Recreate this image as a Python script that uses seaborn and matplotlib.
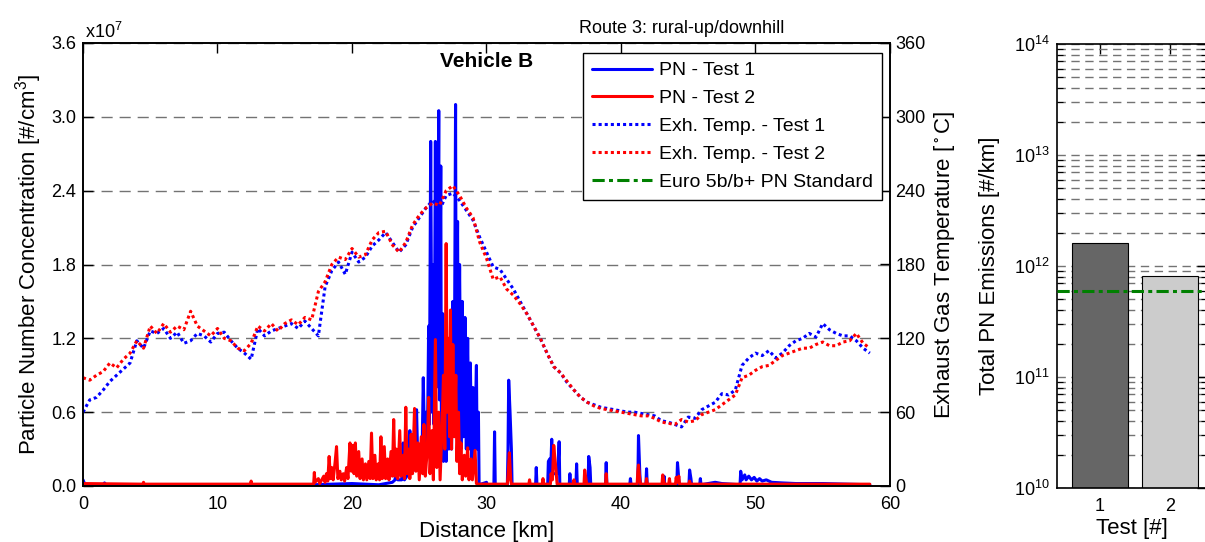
import numpy as np
import pandas as pd
import matplotlib
matplotlib.use("Agg")
import matplotlib.pyplot as plt
import seaborn as sns
from matplotlib.ticker import LogLocator, NullFormatter, FormatStrFormatter

# ---------------- data ----------------
temp_km = [0.0, 0.5, 1.0, 1.5, 2.0, 2.5, 3.0, 3.5, 4.0, 4.5, 5.0, 5.5, 6.0, 6.5, 7.0, 7.5, 8.0, 8.5, 9.0, 9.5,
           10.0, 10.5, 11.0, 11.5, 12.0, 12.5, 13.0, 13.5, 14.0, 14.5, 15.0, 15.5, 16.0, 16.5, 17.0, 17.5, 18.0, 18.5, 19.0, 19.5,
           20.0, 20.5, 21.0, 21.5, 22.0, 22.5, 23.0, 23.5, 24.0, 24.5, 25.0, 25.5, 26.0, 26.5, 27.0, 27.5, 28.0, 28.5, 29.0, 29.5,
           30.0, 30.5, 31.0, 31.5, 32.0, 32.5, 33.0, 33.5, 34.0, 34.5, 35.0, 35.5, 36.0, 36.5, 37.0, 37.5, 38.0, 38.5, 39.0, 39.5,
           40.0, 40.5, 41.0, 41.5, 42.0, 42.5, 43.0, 43.5, 44.0, 44.5, 45.0, 45.5, 46.0, 46.5, 47.0, 47.5, 48.0, 48.5, 49.0, 49.5,
           50.0, 50.5, 51.0, 51.5, 52.0, 52.5, 53.0, 53.5, 54.0, 54.5, 55.0, 55.5, 56.0, 56.5, 57.0, 57.5, 58.0, 58.5]

temp_test1 = [60, 70, 72, 78, 85, 90, 95, 100, 118, 112, 126, 124, 128, 120, 125, 116, 118, 124, 122, 117,
              124, 125, 118, 112, 108, 103, 128, 122, 126, 128, 130, 132, 128, 134, 128, 122, 162, 175, 182, 172,
              190, 182, 186, 195, 200, 206, 198, 190, 196, 210, 218, 226, 232, 224, 236, 238, 232, 224, 216, 202,
              190, 178, 176, 168, 160, 150, 140, 130, 120, 108, 97, 92, 84, 78, 72, 68, 66, 64, 63, 62,
              61, 60, 60, 59, 58, 57, 53, 52, 50, 48, 56, 55, 62, 65, 68, 75, 74, 78, 98, 104,
              108, 106, 110, 104, 108, 114, 118, 120, 124, 121, 132, 127, 124, 122, 122, 118, 112, 108]

temp_test2 = [88, 86, 90, 93, 100, 96, 103, 108, 118, 112, 130, 124, 132, 125, 130, 127, 142, 130, 126, 122,
              128, 120, 118, 112, 110, 116, 130, 126, 132, 126, 132, 135, 131, 137, 135, 158, 166, 180, 186, 184,
              193, 186, 188, 200, 206, 207, 196, 190, 198, 212, 220, 226, 230, 228, 240, 244, 236, 226, 218, 198,
              185, 168, 170, 160, 155, 148, 140, 130, 120, 108, 97, 92, 85, 78, 72, 68, 65, 63, 62, 61,
              60, 59, 58, 57, 57, 55, 52, 51, 50, 54, 52, 53, 58, 60, 62, 66, 70, 74, 88, 90,
              94, 97, 98, 102, 106, 108, 110, 112, 112, 115, 117, 114, 114, 117, 118, 124, 116, 112]

# particle number concentration, in units of 1e7 #/cm3
pn1_km = [0.0, 0.15, 1.5, 1.6, 1.7, 17.0, 20.0, 22.0, 23.0,
          23.2, 23.3, 23.4, 23.7, 23.8, 23.9, 24.2, 24.3, 24.4, 24.7, 24.8, 24.9, 25.1, 25.2, 25.3, 25.4, 25.5, 25.6,
          25.7, 25.75, 25.85, 25.95, 26.05, 26.1, 26.2, 26.25, 26.3, 26.35, 26.45, 26.5, 26.6, 26.65, 26.75, 26.8,
          26.9, 27.0, 27.1, 27.2, 27.3, 27.4, 27.5, 27.6, 27.7, 27.75, 27.85, 27.9, 28.0, 28.1, 28.2, 28.3, 28.4,
          28.5, 28.6, 28.7, 28.8, 28.9, 29.0, 29.1, 29.25, 29.3, 29.4, 29.45,
          30.0, 30.05, 30.55, 30.6, 30.65, 31.55, 31.6, 31.65, 31.75, 31.85, 31.9, 33.65, 33.7, 33.75,
          34.55, 34.6, 34.7, 34.75, 34.85, 34.9, 35.3, 35.4, 35.45, 36.15, 36.2, 36.25, 36.65, 36.7, 36.75,
          37.55, 37.6, 37.7, 37.75, 38.85, 38.9, 38.95, 40.65, 40.7, 40.75, 41.25, 41.3, 41.4, 41.45,
          41.85, 41.9, 41.95, 43.15, 43.2, 43.25, 44.15, 44.2, 44.3, 44.35, 45.05, 45.1, 45.2, 45.25,
          45.85, 45.9, 45.95, 47.0, 47.5, 48.85, 48.9, 49.0, 49.2, 49.3, 49.5, 49.7, 49.9, 50.1, 50.3, 50.5,
          50.8, 51.2, 52.0, 53.0, 55.0, 58.5]
pn1_val = [0.05, 0.01, 0.01, 0.025, 0.01, 0.01, 0.02, 0.01, 0.03,
           0.05, 0.2, 0.05, 0.05, 0.35, 0.05, 0.1, 0.45, 0.1, 0.15, 0.62, 0.15, 0.3, 0.2, 0.88, 0.3, 0.6, 0.3,
           1.3, 0.5, 2.8, 0.6, 1.8, 0.5, 2.8, 0.8, 2.7, 1.0, 3.05, 0.7, 2.6, 0.3, 1.4, 0.2,
           0.9, 0.2, 0.8, 0.3, 1.1, 0.3, 1.5, 0.6, 3.1, 0.8, 2.15, 0.5, 1.8, 0.3, 1.5, 0.4, 1.37,
           0.3, 1.2, 0.3, 1.0, 0.2, 0.8, 0.2, 0.98, 0.3, 0.6, 0.01,
           0.03, 0.01, 0.01, 0.44, 0.01, 0.01, 0.3, 0.86, 0.6, 0.3, 0.01, 0.01, 0.15, 0.01,
           0.01, 0.2, 0.22, 0.05, 0.38, 0.1, 0.1, 0.36, 0.01, 0.01, 0.1, 0.01, 0.01, 0.18, 0.01,
           0.01, 0.24, 0.15, 0.01, 0.01, 0.19, 0.01, 0.01, 0.06, 0.01, 0.01, 0.41, 0.1, 0.01,
           0.01, 0.14, 0.01, 0.01, 0.08, 0.01, 0.01, 0.19, 0.05, 0.01, 0.01, 0.13, 0.06, 0.01,
           0.01, 0.06, 0.01, 0.03, 0.02, 0.01, 0.12, 0.05, 0.09, 0.05, 0.08, 0.05, 0.07, 0.04, 0.06, 0.04,
           0.05, 0.03, 0.025, 0.02, 0.02, 0.01]

pn2_km = [0.0, 4.45, 4.5, 4.55, 12.45, 12.5, 12.55, 17.15, 17.2, 17.25, 17.5, 17.6, 17.9, 18.0, 18.1, 18.2,
          18.3, 18.4, 18.5, 18.6, 18.75, 18.85, 18.95, 19.1, 19.2, 19.35, 19.45, 19.6, 19.7, 19.85, 19.95,
          20.05, 20.15, 20.25, 20.35, 20.5, 20.6, 20.75, 20.85, 21.0, 21.1, 21.25, 21.35, 21.45, 21.55, 21.7,
          21.8, 21.95, 22.05, 22.15, 22.25, 22.4, 22.5, 22.65, 22.75, 22.9, 23.0, 23.1, 23.2, 23.3, 23.4,
          23.55, 23.65, 23.8, 23.9, 24.0, 24.1, 24.2, 24.3, 24.4, 24.5, 24.65, 24.75, 24.9, 25.0, 25.15,
          25.25, 25.35, 25.45, 25.6, 25.7, 25.8, 25.95, 26.05, 26.2, 26.3, 26.45, 26.55, 26.7, 26.8, 26.9,
          27.0, 27.08, 27.18, 27.25, 27.32, 27.4, 27.5, 27.6, 27.72, 27.8, 27.92, 28.0, 28.1, 28.2, 28.35,
          28.45, 28.6, 28.7, 28.85, 28.95, 29.15, 29.25, 29.4, 31.55, 31.6, 31.7, 31.8, 31.85, 33.15, 33.2,
          33.25, 34.15, 34.2, 34.25, 34.75, 34.8, 34.9, 35.0, 35.15, 35.25, 36.45, 36.5, 36.55, 37.25, 37.3,
          37.4, 37.45, 38.85, 38.9, 38.95, 41.2, 41.25, 41.3, 41.4, 41.45, 41.85, 41.9, 41.95, 43.05, 43.1,
          43.2, 43.25, 43.55, 43.6, 43.65, 44.05, 44.1, 44.2, 44.3, 44.35, 45.05, 45.1, 45.15, 58.5]
pn2_val = [0.02, 0.015, 0.03, 0.015, 0.015, 0.04, 0.015, 0.015, 0.11, 0.03, 0.06, 0.02, 0.08, 0.03, 0.1, 0.04,
           0.24, 0.06, 0.15, 0.05, 0.2, 0.32, 0.06, 0.12, 0.05, 0.1, 0.04, 0.15, 0.06, 0.35, 0.12,
           0.33, 0.1, 0.35, 0.08, 0.28, 0.06, 0.22, 0.05, 0.18, 0.05, 0.2, 0.06, 0.43, 0.06, 0.25,
           0.05, 0.18, 0.05, 0.4, 0.06, 0.32, 0.06, 0.22, 0.05, 0.28, 0.08, 0.54, 0.08, 0.3, 0.06,
           0.45, 0.08, 0.25, 0.06, 0.64, 0.1, 0.3, 0.06, 0.42, 0.1, 0.63, 0.12, 0.35, 0.05, 0.4,
           0.1, 0.5, 0.08, 0.3, 0.72, 0.1, 0.45, 0.05, 1.19, 0.15, 0.6, 0.05, 0.5, 0.9, 0.3,
           1.97, 0.6, 1.2, 0.4, 1.43, 0.3, 1.15, 0.4, 0.9, 0.2, 0.6, 0.1, 0.35, 0.05, 0.25,
           0.08, 0.31, 0.05, 0.22, 0.05, 0.29, 0.02, 0.015, 0.015, 0.08, 0.27, 0.05, 0.015, 0.015, 0.05,
           0.015, 0.015, 0.06, 0.015, 0.015, 0.1, 0.05, 0.33, 0.15, 0.015, 0.015, 0.05, 0.015, 0.015, 0.13,
           0.05, 0.015, 0.015, 0.1, 0.015, 0.015, 0.12, 0.17, 0.05, 0.015, 0.015, 0.06, 0.015, 0.015, 0.09,
           0.03, 0.015, 0.015, 0.06, 0.015, 0.015, 0.07, 0.03, 0.08, 0.015, 0.015, 0.04, 0.015, 0.015]

tests = [1, 2]
total_pn = [1.6e12, 8.1e11]          # #/km
euro_std = 6.0e11                    # Euro 5b/b+ PN limit, #/km

pn_ticks = [0.0, 0.6, 1.2, 1.8, 2.4, 3.0, 3.6]
temp_ticks = [0, 60, 120, 180, 240, 300, 360]
km_ticks = [0, 10, 20, 30, 40, 50, 60]

labels = ["PN - Test 1", "PN - Test 2", "Exh. Temp. - Test 1", "Exh. Temp. - Test 2", "Euro 5b/b+ PN Standard"]

# ---------------- style ----------------
sns.set_theme(style="white")
plt.rcParams['font.family'] = ['Liberation Sans', 'DejaVu Sans']
plt.rcParams['mathtext.default'] = 'regular'
plt.rcParams['axes.edgecolor'] = 'black'
plt.rcParams['axes.linewidth'] = 1.2
plt.rcParams['xtick.color'] = 'black'
plt.rcParams['ytick.color'] = 'black'
plt.rcParams['text.color'] = 'black'
plt.rcParams['axes.labelcolor'] = 'black'

W, H = 1205, 542
fig = plt.figure(figsize=(W / 100, H / 100), dpi=100)

ax = fig.add_axes([83 / W, (H - 486) / H, 807 / W, 443 / H])
ax2 = ax.twinx()
ax3 = fig.add_axes([1057 / W, (H - 488) / H, 150 / W, 444 / H])

grid_kw = dict(color='0.45', linewidth=1.0, linestyle=(0, (8, 5)))

# ---------------- left panel ----------------
sns.lineplot(x=pn1_km, y=pn1_val, ax=ax, color='#0000ff', linewidth=2.2, estimator=None, sort=False, legend=False)
l_pn1 = ax.lines[-1]
sns.lineplot(x=pn2_km, y=pn2_val, ax=ax, color='#ff0000', linewidth=2.2, estimator=None, sort=False, legend=False)
l_pn2 = ax.lines[-1]

sns.lineplot(x=temp_km, y=temp_test1, ax=ax2, color='#0000ff', linewidth=2.2, estimator=None, sort=False, legend=False)
l_t1 = ax2.lines[-1]
l_t1.set_linestyle((0, (1, 1)))
sns.lineplot(x=temp_km, y=temp_test2, ax=ax2, color='#ff0000', linewidth=2.2, estimator=None, sort=False, legend=False)
l_t2 = ax2.lines[-1]
l_t2.set_linestyle((0, (1, 1)))

ax.set_xlim(0, 60)
ax.set_ylim(0, 3.6)
ax2.set_ylim(0, 360)
ax.set_xticks(km_ticks)
ax.set_yticks(pn_ticks)
ax.yaxis.set_major_formatter(FormatStrFormatter('%.1f'))
ax2.set_yticks(temp_ticks)
ax.yaxis.grid(True, **grid_kw)
ax.xaxis.grid(False)
ax2.grid(False)

ax.tick_params(axis='both', direction='in', length=7, width=1.0, labelsize=13, top=True, right=False, pad=5)
ax.tick_params(axis='x', pad=7)
ax2.tick_params(axis='y', direction='in', length=7, width=1.0, labelsize=13, pad=4)

ax.set_xlabel("Distance [km]", fontsize=16, va='center')
ax.xaxis.set_label_coords(0.5, -0.1016)
ax.set_ylabel("Particle Number Concentration [#/cm$^3$]", fontsize=16, va='center')
ax.yaxis.set_label_coords(-0.068, 0.5)
ax2.set_ylabel("Exhaust Gas Temperature [$^\\circ$C]", fontsize=16, va='center')
ax2.yaxis.set_label_coords(1.068, 0.5)

ax.text(0.5, (486 - 62) / 443, "Vehicle B", transform=ax.transAxes, ha='center', va='center',
        fontsize=15, fontweight='bold')
fig.text(85 / W, (H - 38) / H, "x10$^7$", fontsize=13, va='baseline', ha='left')
fig.text(579 / W, (H - 33) / H, "Route 3: rural-up/downhill", fontsize=13, va='baseline', ha='left')

# ---------------- right panel ----------------
ax3.set_yscale('log')
df = pd.DataFrame({"test": tests, "total": total_pn})
sns.barplot(data=df, x="test", y="total", hue="test", palette={1: '#666666', 2: '#cccccc'},
            native_scale=True, dodge=False, legend=False, width=0.8, edgecolor='black', linewidth=0.8,
            saturation=1, ax=ax3)
l_euro = ax3.axhline(euro_std, color='#008000', linewidth=2.2, linestyle=(0, (4, 1.4, 1.3, 1.4)), zorder=5)

ax3.set_yscale('log')
ax3.set_ylim(1e10, 1e14)
ax3.set_xlim(1 - 43 / 70, 1 - 43 / 70 + 150 / 70)
ax3.set_xticks(tests)
ax3.xaxis.set_major_formatter(FormatStrFormatter('%d'))
ax3.yaxis.set_major_locator(LogLocator(base=10, numticks=10))
ax3.yaxis.set_minor_locator(LogLocator(base=10, subs=np.arange(2, 10), numticks=50))
ax3.yaxis.set_minor_formatter(NullFormatter())
ax3.set_axisbelow(True)
ax3.grid(False)
ax3.yaxis.grid(True, which='both', color='0.45', linewidth=1.0, linestyle=(0, (6, 4)))
ax3.tick_params(axis='both', which='major', direction='in', length=7, width=1.0, labelsize=13,
                top=True, right=True, pad=5)
ax3.tick_params(axis='y', which='minor', direction='in', length=4, width=0.8, left=True, right=True)
ax3.tick_params(axis='x', pad=7)
ax3.set_xlabel("Test [#]", fontsize=16, va='center')
ax3.xaxis.set_label_coords(0.5, -0.092)
ax3.set_ylabel("Total PN Emissions [#/km]", fontsize=16, va='center')
ax3.yaxis.set_label_coords(-0.453, 0.5)

# ---------------- legend ----------------
leg = ax2.legend([l_pn1, l_pn2, l_t1, l_t2, l_euro], labels, loc='upper right',
                 bbox_to_anchor=(0.990, (486 - 53) / 443), borderaxespad=0, fontsize=14,
                 frameon=True, fancybox=False, edgecolor='black', framealpha=1,
                 handlelength=3.1, handletextpad=0.35, labelspacing=0.53, borderpad=0.45)
leg.get_frame().set_linewidth(1.0)

fig.savefig("out.png", dpi=100)
